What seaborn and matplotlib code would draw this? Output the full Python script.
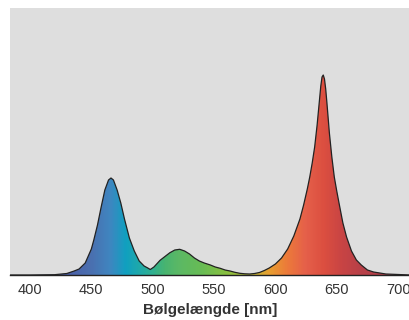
import numpy as np
import pandas as pd
import matplotlib
matplotlib.use("Agg")
from matplotlib import pyplot as plt
from matplotlib.colors import LinearSegmentedColormap
import seaborn as sns

# spectrum (relative intensity, red peak = 200)
wavelength = [384, 400, 420, 430, 436, 440, 445, 450, 452, 455, 458, 461, 464, 466, 468,
              471, 474, 477, 481, 485, 489, 493, 496, 498, 501, 506, 510, 514, 518, 522,
              526, 530, 534, 538, 542, 547, 551, 555, 559, 563, 567, 571, 575, 579, 583,
              587, 591, 595, 600, 605, 610, 615, 620, 623, 626, 628, 630, 632, 634, 636,
              637, 638, 639, 640, 641, 642, 644, 646, 648, 650, 652, 655, 658, 662, 666,
              670, 675, 680, 690, 700, 710]
intensity = [0, 0, 0.3, 1.5, 4, 6, 12, 26, 35, 50, 68, 85, 95, 97, 95,
             85, 72, 56, 37, 24, 14, 9, 7, 5.5, 8, 14.7, 18.5, 22.3, 25, 25.7,
             24, 21, 17, 14, 12, 10, 8, 6.7, 5, 4, 2.7, 1.7, 1.2, 1, 1.5,
             2.5, 4.5, 7, 11, 17, 26, 39, 56, 70, 86, 98, 112, 128, 150, 176,
             189, 198, 200, 196, 186, 172, 142, 118, 98, 84, 71, 52, 38, 24, 15,
             10, 5, 3, 1, 0.5, 0]

xticks = [400, 450, 500, 550, 600, 650, 700]

# fill colours along the wavelength axis
color_stops = [(384, "#4a5aa5"), (430, "#4a5fa8"), (450, "#4a70b0"), (465, "#3f86c0"),
               (478, "#10a0c0"), (490, "#20aaa8"), (500, "#30b090"), (510, "#48b470"),
               (520, "#5ab866"), (540, "#68bc55"), (560, "#88c040"), (580, "#b8b838"),
               (595, "#e8a030"), (610, "#ec7a3a"), (625, "#e5604a"), (640, "#dc4f40"),
               (655, "#c84444"), (670, "#b84048"), (710, "#b03c48")]

df = pd.DataFrame({"wl": wavelength, "val": np.array(intensity) / 200.0})

sns.set_theme(style="white")
plt.rcParams["font.family"] = ["Liberation Sans", "DejaVu Sans"]

fig = plt.figure(figsize=(4.1, 3.2), dpi=100)
ax = fig.add_axes([10 / 410, 1 - 275 / 320, 400 / 410, 267 / 320])
ax.set_facecolor("#dedede")

x0, x1 = 383.7, 709.7
y1 = 267 / 200
lo, hi = color_stops[0][0], color_stops[-1][0]
cmap = LinearSegmentedColormap.from_list(
    "spec", [((w - lo) / (hi - lo), c) for w, c in color_stops])

poly = ax.fill_between(df["wl"], df["val"], 0, color="none", lw=0)
grad = np.linspace(lo, hi, 600).reshape(1, -1)
img = ax.imshow(grad, cmap=cmap, extent=[lo, hi, 0, 1.05], aspect="auto",
                origin="lower", zorder=1)
img.set_clip_path(poly.get_paths()[0], transform=ax.transData)

sns.lineplot(data=df, x="wl", y="val", ax=ax, color="#222222", lw=0.9, zorder=3)

ax.set_xlim(x0, x1)
ax.set_ylim(0, y1)
ax.set_xticks(xticks)
ax.set_xticklabels([str(t) for t in xticks], fontsize=10.5, color="#333333")
ax.set_yticks([])
ax.tick_params(axis="x", length=0, pad=6)
ax.set_xlabel("Bølgelængde [nm]", fontsize=11, fontweight="bold", color="#333333", labelpad=4)
ax.set_ylabel("")
for side in ["top", "left", "right"]:
    ax.spines[side].set_visible(False)
ax.spines["bottom"].set_color("#222222")
ax.spines["bottom"].set_linewidth(1.0)

fig.savefig("out.png", dpi=100)
plt.close(fig)
